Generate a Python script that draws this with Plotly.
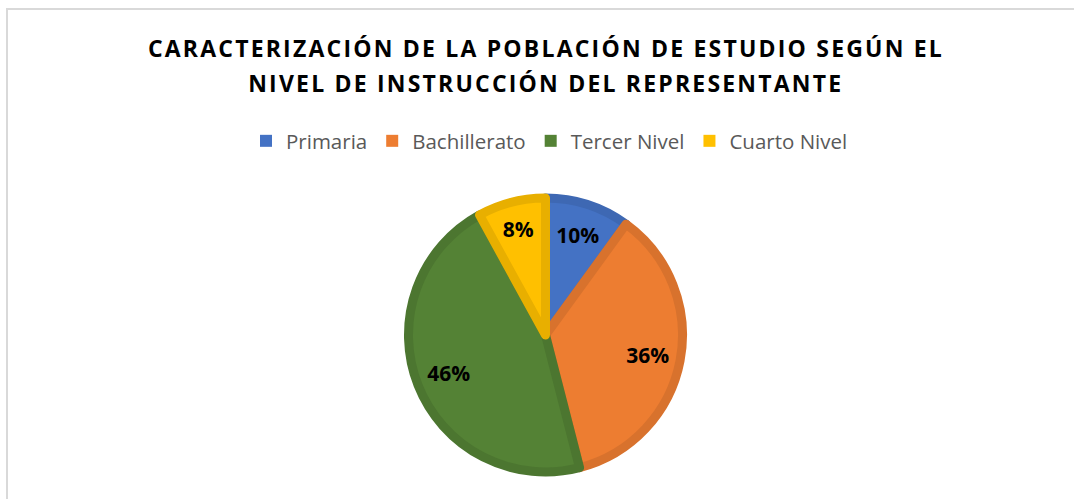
import plotly.graph_objects as go

categories = ["Primaria", "Bachillerato", "Tercer Nivel", "Cuarto Nivel"]
values = [10, 36, 46, 8]
fill_colors = ["#4472C4", "#ED7D31", "#548235", "#FFC000"]
edge_colors = ["#3E68B3", "#D8722D", "#4C7630", "#E8AF00"]
title_lines = ["CARACTERIZACIÓN DE LA POBLACIÓN DE ESTUDIO SEGÚN EL",
               "NIVEL DE INSTRUCCIÓN DEL REPRESENTANTE"]

W, H = 1074, 499
cx, cy, r = 545.5, 335, 137
dom = dict(x=[(cx - r) / W, (cx + r) / W], y=[(H - cy - r) / H, (H - cy + r) / H])

fig = go.Figure()
# legend carrier (solid keys), hidden under the bordered pie
fig.add_trace(go.Pie(
    labels=categories, values=values, sort=False, direction="clockwise", rotation=0,
    marker=dict(colors=fill_colors, line=dict(width=0)),
    textinfo="none", hoverinfo="skip", domain=dom, showlegend=True,
))
# visible pie with darker slice edges
fig.add_trace(go.Pie(
    labels=categories, values=values, sort=False, direction="clockwise", rotation=0,
    marker=dict(colors=fill_colors, line=dict(color=edge_colors, width=9)),
    textinfo="none", hoverinfo="skip", domain=dom, showlegend=False,
))
# transparent ring carrying the percentage labels (places them towards the rim)
fig.add_trace(go.Pie(
    labels=categories, values=values, sort=False, direction="clockwise", rotation=0,
    hole=0.52,
    marker=dict(colors=["rgba(0,0,0,0)"] * len(values), line=dict(width=0)),
    texttemplate="%{percent:.0%}", textposition="inside",
    insidetextorientation="horizontal",
    textfont=dict(family="Open Sans", size=21, color="#000000", weight="bold"),
    hoverinfo="skip", domain=dom, showlegend=False,
))

title_y = [48, 83]
annotations = [
    dict(text=t, xref="paper", yref="paper", x=545.5 / W, y=1 - yy / H,
         xanchor="center", yanchor="middle", showarrow=False,
         font=dict(family="Open Sans", size=23, color="#000000", weight="bold"))
    for t, yy in zip(title_lines, title_y)
]

fig.update_layout(
    width=W, height=H,
    margin=dict(l=0, r=0, t=0, b=0),
    paper_bgcolor="white",
    annotations=annotations,
    legend=dict(orientation="h", x=549.5 / W, xanchor="center", y=1 - 141 / H, yanchor="middle",
                font=dict(family="Open Sans", size=20.5, color="#595959")),
    shapes=[
        dict(type="line", xref="paper", yref="paper", x0=6 / W, x1=1, y0=1 - 9 / H, y1=1 - 9 / H,
             line=dict(color="#D9D9D9", width=2)),
        dict(type="line", xref="paper", yref="paper", x0=7 / W, x1=7 / W, y0=0, y1=1 - 8 / H,
             line=dict(color="#D9D9D9", width=2)),
    ],
)

post = """
document.body.style.margin = '0';
document.querySelectorAll('.annotation-text').forEach(function(e){
  e.setAttribute('letter-spacing', '2.2px');
});
"""
fig.write_html("out.html", post_script=post, config={"displayModeBar": False})
